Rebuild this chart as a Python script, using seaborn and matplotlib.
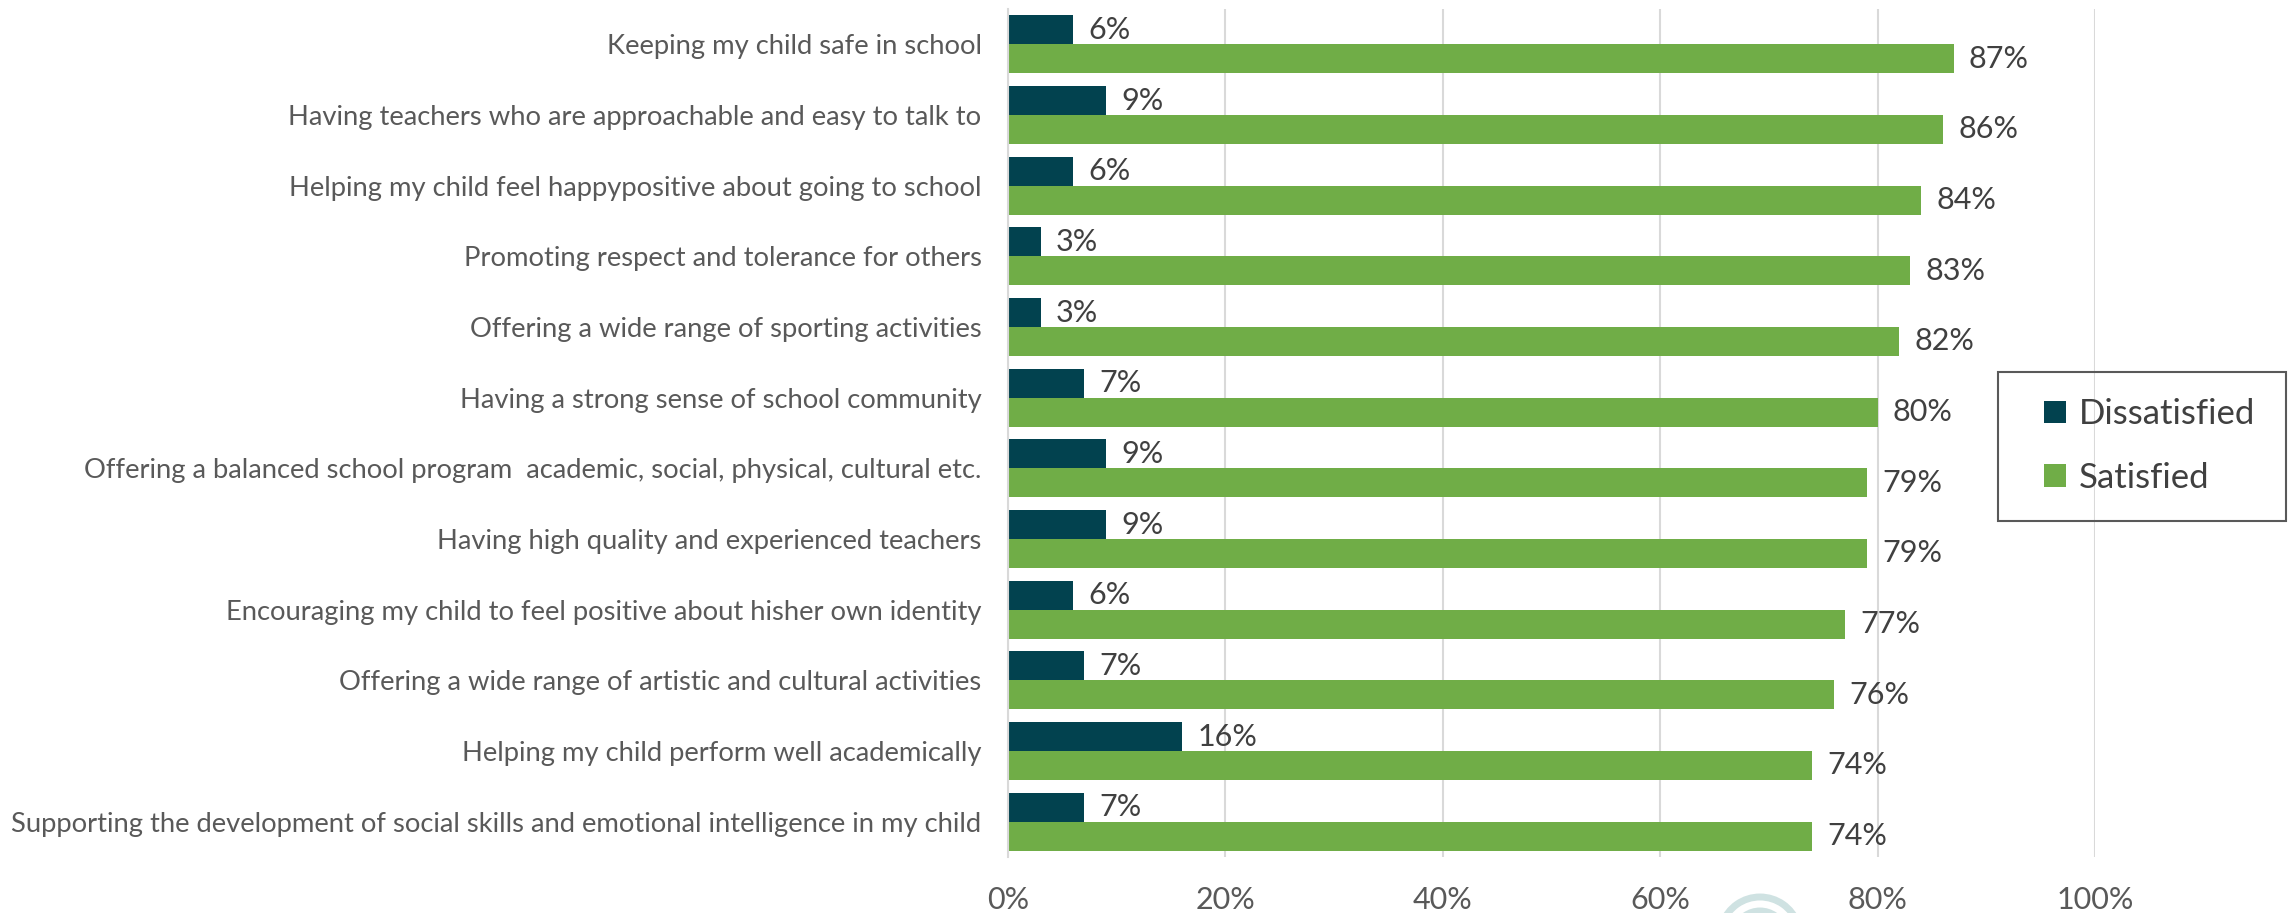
import matplotlib
matplotlib.use("Agg")
import matplotlib.pyplot as plt
from matplotlib.patches import Rectangle, Arc
from matplotlib.ticker import PercentFormatter
import seaborn as sns
import pandas as pd

categories = [
    "Keeping my child safe in school",
    "Having teachers who are approachable and easy to talk to",
    "Helping my child feel happypositive about going to school",
    "Promoting respect and tolerance for others",
    "Offering a wide range of sporting activities",
    "Having a strong sense of school community",
    "Offering a balanced school program  academic, social, physical, cultural etc.",
    "Having high quality and experienced teachers",
    "Encouraging my child to feel positive about hisher own identity",
    "Offering a wide range of artistic and cultural activities",
    "Helping my child perform well academically",
    "Supporting the development of social skills and emotional intelligence in my child",
]
dissatisfied = [6, 9, 6, 3, 3, 7, 9, 9, 6, 7, 16, 7]
satisfied = [87, 86, 84, 83, 82, 80, 79, 79, 77, 76, 74, 74]
series = ["Dissatisfied", "Satisfied"]
colors = {"Dissatisfied": "#02424F", "Satisfied": "#70AD47"}
x_ticks = [0, 20, 40, 60, 80, 100]

df = pd.DataFrame({
    "category": categories * 2,
    "series": [series[0]] * len(categories) + [series[1]] * len(categories),
    "value": dissatisfied + satisfied,
})

sns.set_theme(style="white")
plt.rcParams["font.family"] = ["Lato", "DejaVu Sans"]

W, H = 2295, 913
fig = plt.figure(figsize=(W / 100, H / 100), dpi=100)
ax = fig.add_axes([1008 / W, 1 - 857 / H, (2095 - 1008) / W, (857 - 9) / H])

sns.barplot(data=df, y="category", x="value", hue="series", order=categories,
            hue_order=series, palette=colors, orient="h", width=0.82,
            saturation=1, linewidth=0, ax=ax, legend=False)

ax.set_xlim(0, 100)
ax.set_xticks(x_ticks)
ax.xaxis.set_major_formatter(PercentFormatter(decimals=0))
ax.grid(axis="x", color="#D9D9D9", linewidth=1.5)
ax.set_axisbelow(True)
for s in ["top", "right", "bottom"]:
    ax.spines[s].set_visible(False)
ax.spines["left"].set_color("#D9D9D9")
ax.spines["left"].set_linewidth(1.5)
ax.set_xlabel("")
ax.set_ylabel("")
ax.tick_params(axis="y", length=0, pad=19, labelsize=19.7, labelcolor="#595959")
ax.tick_params(axis="x", length=0, pad=21, labelsize=22, labelcolor="#595959")

for container in ax.containers:
    ax.bar_label(container, labels=[f"{v:.0f}%" for v in container.datavalues],
                 padding=11, fontsize=22, color="#404040")

# legend with a square frame drawn around it
handles = [Rectangle((0, 0), 1, 1, facecolor=colors[s], edgecolor="none") for s in series]
leg = fig.legend(handles, series, loc="center", bbox_to_anchor=(2150 / W, 1 - 446 / H),
                 frameon=False, fontsize=25, handlelength=0.62, handleheight=0.62,
                 handletextpad=0.38, labelspacing=0.9, labelcolor="#404040")
fig.add_artist(Rectangle((1998 / W, 1 - 521 / H), (2286 - 1998) / W, (521 - 372) / H,
                         transform=fig.transFigure, fill=False, edgecolor="#595959",
                         linewidth=1.5))

# faint logo mark at the bottom edge
for r, lw in [(40, 5), (26, 5)]:
    fig.add_artist(Arc((1760, H - 937), 2 * r, 2 * r, theta1=20, theta2=160,
                       transform=None, color="#CFE2E2", linewidth=lw))

fig.savefig("out.png", dpi=100)
